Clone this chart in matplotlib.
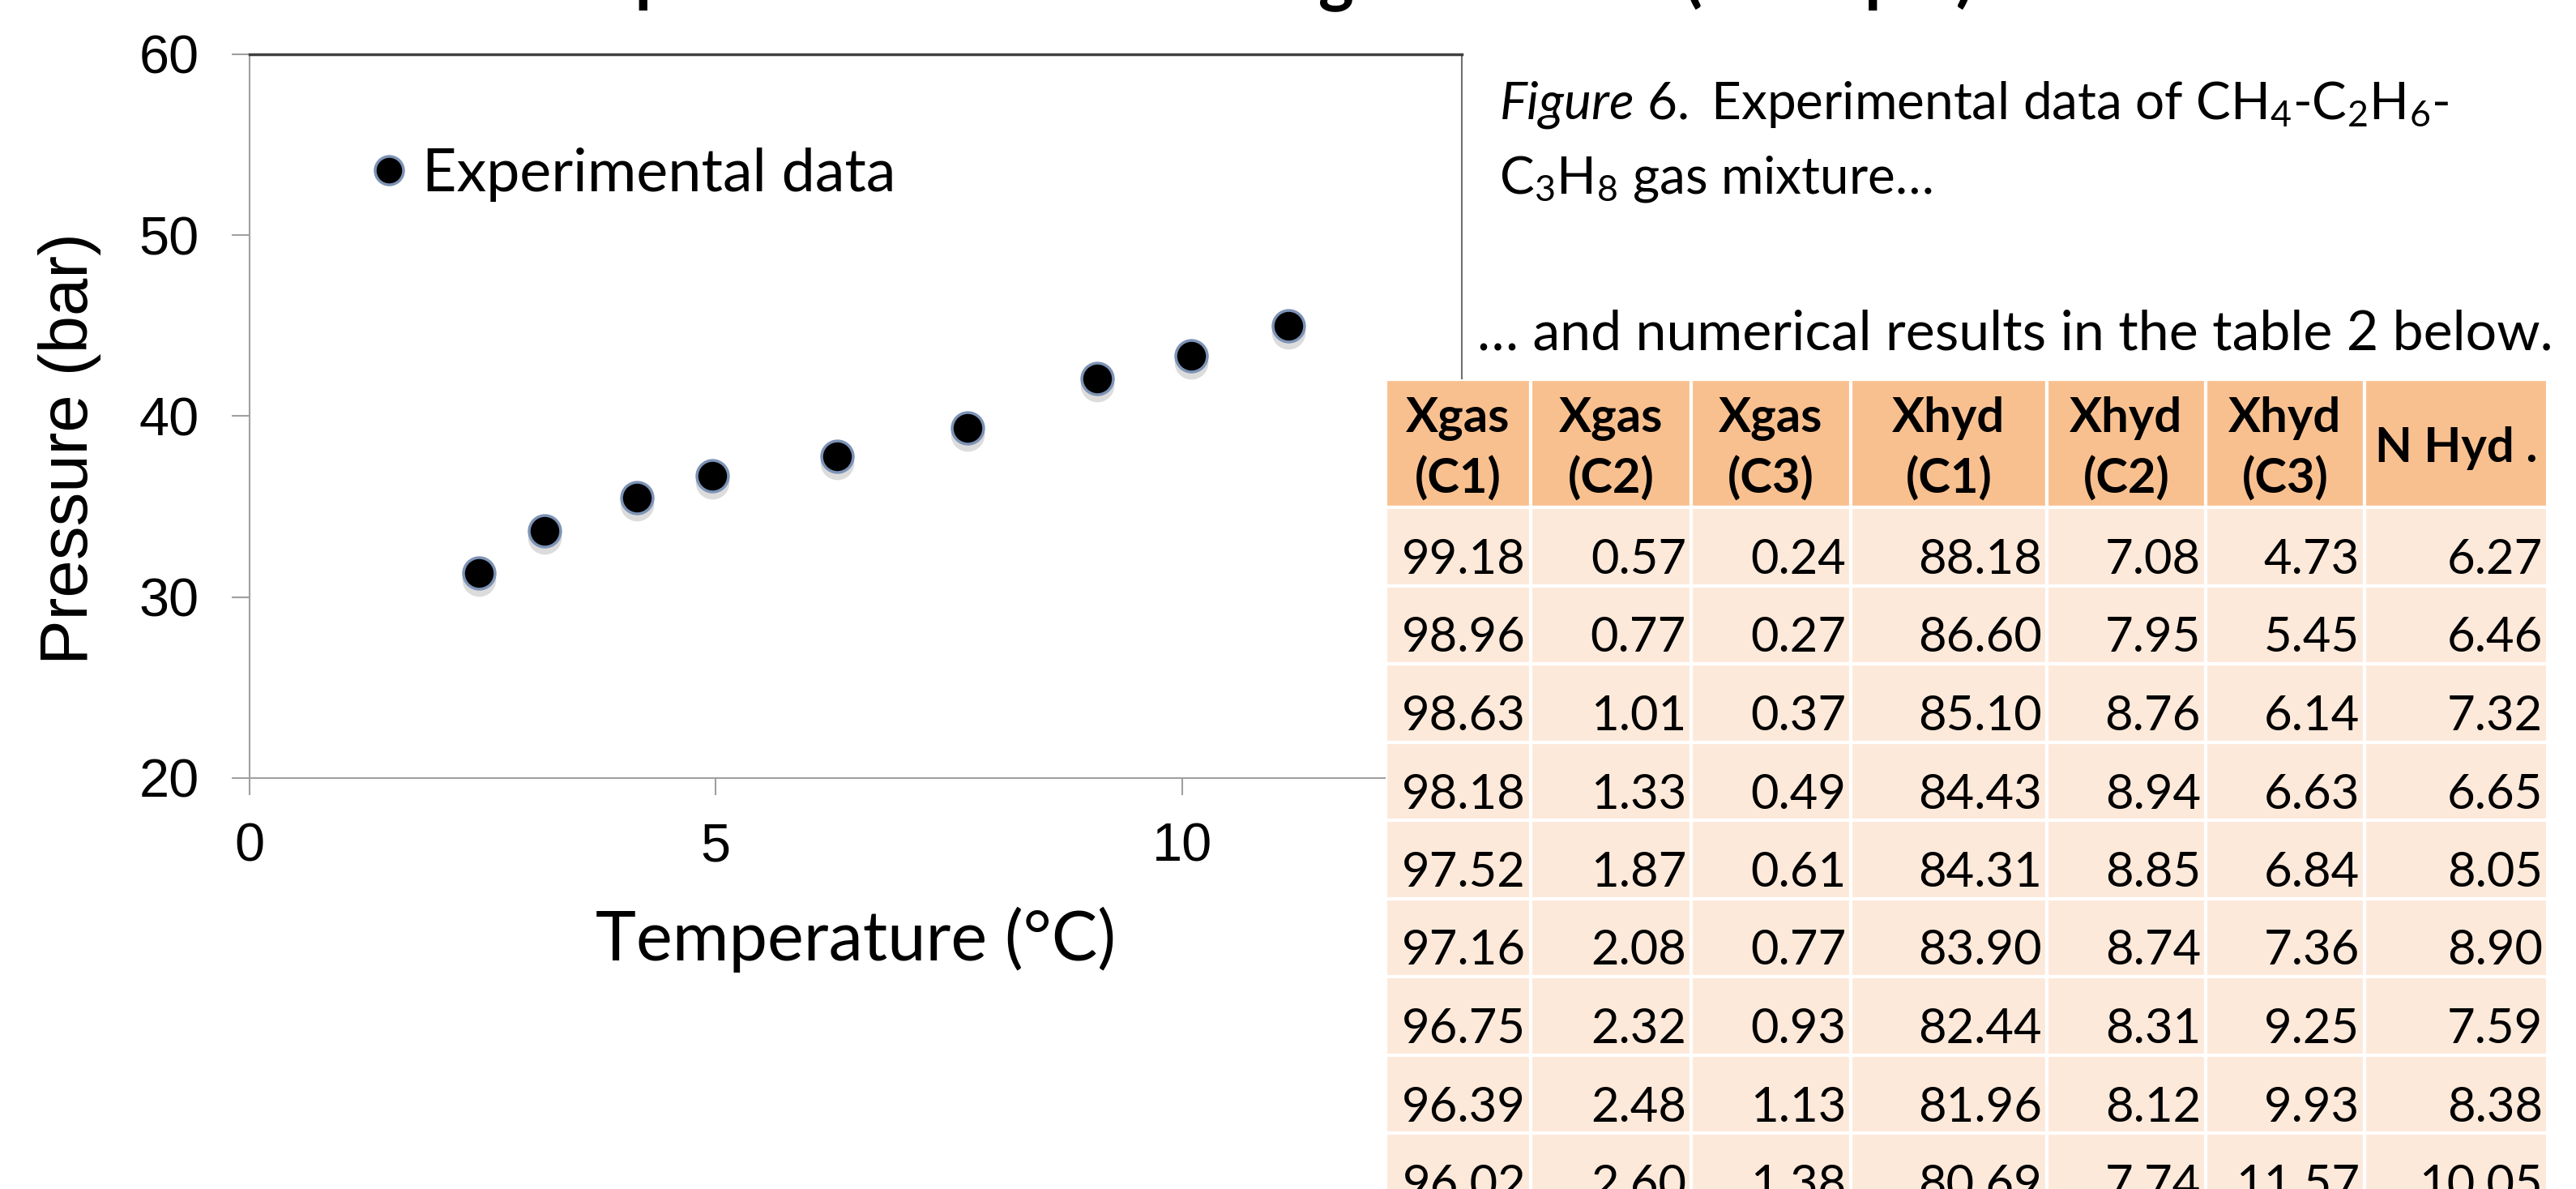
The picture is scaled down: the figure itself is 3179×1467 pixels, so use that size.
import matplotlib
matplotlib.use("Agg")
import matplotlib.pyplot as plt
import matplotlib.transforms as mtransforms
from matplotlib.patches import Rectangle
from matplotlib.font_manager import FontProperties

# scatter data
temperature = [2.46, 3.16, 4.15, 4.96, 6.30, 7.70, 9.09, 10.10, 11.14]
pressure = [31.33, 33.66, 35.51, 36.69, 37.80, 39.34, 42.09, 43.34, 44.98]

# table 2
headers = ["Xgas\n(C1)", "Xgas\n(C2)", "Xgas\n(C3)", "Xhyd\n(C1)", "Xhyd\n(C2)", "Xhyd\n(C3)", "N Hyd ."]
xgas_c1 = [99.18, 98.96, 98.63, 98.18, 97.52, 97.16, 96.75, 96.39, 96.02]
xgas_c2 = [0.57, 0.77, 1.01, 1.33, 1.87, 2.08, 2.32, 2.48, 2.60]
xgas_c3 = [0.24, 0.27, 0.37, 0.49, 0.61, 0.77, 0.93, 1.13, 1.38]
xhyd_c1 = [88.18, 86.60, 85.10, 84.43, 84.31, 83.90, 82.44, 81.96, 80.69]
xhyd_c2 = [7.08, 7.95, 8.76, 8.94, 8.85, 8.74, 8.31, 8.12, 7.74]
xhyd_c3 = [4.73, 5.45, 6.14, 6.63, 6.84, 7.36, 9.25, 9.93, 11.57]
n_hyd = [6.27, 6.46, 7.32, 6.65, 8.05, 8.90, 7.59, 8.38, 10.05]
columns = [xgas_c1, xgas_c2, xgas_c3, xhyd_c1, xhyd_c2, xhyd_c3, n_hyd]

W, H = 3179, 1467
plt.rcParams["mathtext.fontset"] = "custom"
plt.rcParams["mathtext.rm"] = "Lato"
plt.rcParams["mathtext.it"] = "Lato:italic"

fig = plt.figure(figsize=(W / 100, H / 100), dpi=100)

# ---- scatter chart
ax = fig.add_axes([308 / W, 1 - 960 / H, (1804 - 308) / W, (960 - 67) / H])
shadow = mtransforms.offset_copy(ax.transData, fig=fig, x=0, y=-8, units="dots")
ax.plot(temperature, pressure, "o", ms=30, color="#a8a8a8", alpha=0.4,
        mec="none", transform=shadow)
ax.plot(temperature, pressure, "o", ms=28, mfc="black", mec="#7d93b6", mew=2.5,
        label="Experimental data")
ax.set_xlim(0, 13)
ax.set_ylim(20, 60)
ax.set_xticks([0, 5, 10])
ax.set_yticks([20, 30, 40, 50, 60])
for lab in ax.get_xticklabels() + ax.get_yticklabels():
    lab.set_fontfamily("Liberation Sans")
    lab.set_fontsize(48)
ax.tick_params(axis="y", length=16, width=1.5, color="#a0a0a0", pad=29)
ax.tick_params(axis="x", length=15, width=1.5, color="#a0a0a0", pad=24)
ax.spines["top"].set_color("#404040")
ax.spines["top"].set_linewidth(2.5)
ax.spines["right"].set_color("#707070")
ax.spines["right"].set_linewidth(1.5)
ax.spines["left"].set_color("#a0a0a0")
ax.spines["left"].set_linewidth(1.5)
ax.spines["bottom"].set_color("#a0a0a0")
ax.spines["bottom"].set_linewidth(1.5)

ax.set_ylabel("Pressure (bar)", fontfamily="Liberation Sans", fontsize=60)
ax.yaxis.set_label_coords(-0.122, 0.455)
ax.set_xlabel("Temperature (°C)", fontfamily="Lato", fontsize=61)
ax.xaxis.set_label_coords(0.5, -0.178)

ax.legend(loc="center left", bbox_to_anchor=(0.103, 0.834), frameon=False,
          handlelength=0.5, handletextpad=0.3, borderpad=0, borderaxespad=0,
          markerscale=0.9, prop=FontProperties(family="Lato", size=53))

# ---- title (cut off at the top edge)
fig.text(0.492, 1 + 1 / H, "Experimental data of the gas mixture (example)",
         ha="center", va="baseline", fontfamily="Lato", fontweight="bold",
         fontsize=60)

# ---- caption
fig.text(1850 / W, 1 - 147 / H,
         r"$\mathit{Figure\ 6.\ }$Experimental data of CH$_4$-C$_2$H$_6$-",
         ha="left", va="baseline", fontfamily="Lato", fontsize=46)
fig.text(1850 / W, 1 - 238 / H, "C$_3$H$_8$ gas mixture…",
         ha="left", va="baseline", fontfamily="Lato", fontsize=46)
fig.text(1823 / W, 1 - 431 / H, "… and numerical results in the table 2 below.",
         ha="left", va="baseline", fontfamily="Lato", fontsize=49)

# ---- table
col_w = [179, 198, 197, 242, 196, 196, 226]
head_h = 158
row_h = 96.5
tot_w = sum(col_w)
tot_h = head_h + row_h * len(xgas_c1)
tax = fig.add_axes([1710 / W, 1 - (468 + tot_h) / H, tot_w / W, tot_h / H])
tax.set_xlim(0, tot_w)
tax.set_ylim(tot_h, 0)
tax.axis("off")

x0 = 0
for j, name in enumerate(headers):
    w = col_w[j]
    tax.add_patch(Rectangle((x0, 0), w, head_h, facecolor="#f9c08f",
                            edgecolor="white", lw=3))
    if "\n" in name:
        top, bot = name.split("\n")
        tax.text(x0 + w / 2, 65, top, ha="center", va="baseline",
                 fontfamily="Lato", fontweight="bold", fontsize=43)
        tax.text(x0 + w / 2, 141, bot, ha="center", va="baseline",
                 fontfamily="Lato", fontweight="bold", fontsize=43)
    else:
        tax.text(x0 + w / 2, 102, name, ha="center", va="baseline",
                 fontfamily="Lato", fontweight="bold", fontsize=43)
    for i, v in enumerate(columns[j]):
        y = head_h + i * row_h
        tax.add_patch(Rectangle((x0, y), w, row_h, facecolor="#fde9da",
                                edgecolor="white", lw=3))
        tax.text(x0 + w - 6, y + 82, f"{v:.2f}", ha="right", va="baseline",
                 fontfamily="Lato", fontsize=43)
    x0 += w

fig.savefig("out.png", dpi=100)
